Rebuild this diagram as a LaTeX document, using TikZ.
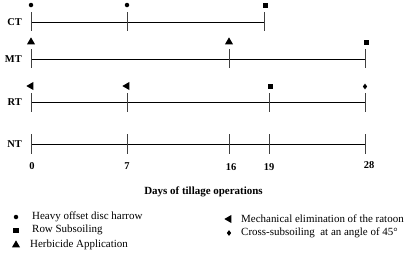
\documentclass[tikz,border=0pt]{standalone}
\usepackage{fontspec}
\setmainfont{Liberation Serif}
\usetikzlibrary{shapes.geometric}
\begin{document}
\begin{tikzpicture}[x=1bp,y=-1bp,
  tl/.style={line width=0.8pt,black},
  tk/.style={line width=0.8pt,black!75},
  lab/.style={font=\fontsize{10.5}{12}\selectfont\bfseries,anchor=east,inner sep=0pt},
  num/.style={font=\fontsize{10.5}{12}\selectfont\bfseries,inner sep=0pt},
  leg/.style={font=\fontsize{11}{12}\selectfont,anchor=west,inner sep=0pt},
  dot/.style={circle,fill=black,inner sep=0pt,minimum size=4.5bp},
  sq/.style={rectangle,fill=black,inner sep=0pt,minimum size=5bp},
  tri/.style={isosceles triangle,isosceles triangle apex angle=60,fill=black,inner sep=0pt,minimum height=7bp,shape border rotate=90},
  ltri/.style={isosceles triangle,isosceles triangle apex angle=60,fill=black,inner sep=0pt,minimum height=7bp,shape border rotate=180},
  dia/.style={diamond,fill=black,inner sep=0pt,minimum width=4.5bp,minimum height=6bp}]
\path[use as bounding box,fill=white] (0,0) rectangle (408,253);
\foreach \r/\y in {ct/22,mt/59,rt/102,nt/144}{
  \coordinate (\r0) at (31,\y);
}
% CT
\node[lab] (lct) at (22,22) {CT};
\coordinate (ctE) at (264,22);
\draw[tl] (ct0) -- (ctE);
\draw[tk] (31,12) -- (31,31) (127,12) -- (127,31) (264,12) -- (264,31);
\node[dot] (m1) at (31,5) {};
\node[dot] (m2) at (127,5) {};
\node[sq] (m3) at (265,5) {};
% MT
\node[lab] (lmt) at (22,59) {MT};
\coordinate (mtE) at (365,59);
\draw[tl] (mt0) -- (mtE);
\draw[tk] (31,49) -- (31,68) (229,49) -- (229,68) (365,49) -- (365,68);
\node[tri] (m4) at (31,42) {};
\node[tri] (m5) at (229,42) {};
\node[sq] (m6) at (366,42) {};
% RT
\node[lab] (lrt) at (22,102) {RT};
\coordinate (rtE) at (365,102);
\draw[tl] (rt0) -- (rtE);
\draw[tk] (31,93) -- (31,112) (127,93) -- (127,112) (269,93) -- (269,112) (365,93) -- (365,112);
\node[ltri] (m7) at (31,86) {};
\node[ltri] (m8) at (127,86) {};
\node[sq] (m9) at (270,86) {};
\node[dia] (m10) at (365,86.5) {};
% NT
\node[lab] (lnt) at (22,144) {NT};
\coordinate (ntE) at (365,144);
\draw[tl] (nt0) -- (ntE);
\draw[tk] (31,134) -- (31,154) (127,134) -- (127,154) (229,134) -- (229,154) (269,134) -- (269,154) (365,134) -- (365,154);
% numbers
\node[num] (n0) at (32,166) {0};
\node[num] (n7) at (127,166) {7};
\node[num] (n16) at (231,167) {16};
\node[num] (n19) at (269,167) {19};
\node[num] (n28) at (369,165) {28};
\node[num,font=\fontsize{11}{12}\selectfont\bfseries] (xl) at (203.5,192) {Days of tillage operations};
% legend
\node[dot] (g1) at (16,217) {};
\node[leg] (t1) at (32,217) {Heavy offset disc harrow};
\node[sq] (g2) at (16,230) {};
\node[leg] (t2) at (32,230) {Row Subsoiling};
\node[tri] (g3) at (16,245) {};
\node[leg] (t3) at (30,245) {Herbicide Application};
\node[ltri] (g4) at (229,219) {};
\node[leg] (t4) at (241,219) {Mechanical elimination of the ratoon};
\node[dia] (g5) at (229,233) {};
\node[leg] (t5) at (241,233) {Cross-subsoiling\ \ at an angle of 45°};
\end{tikzpicture}
\end{document}
